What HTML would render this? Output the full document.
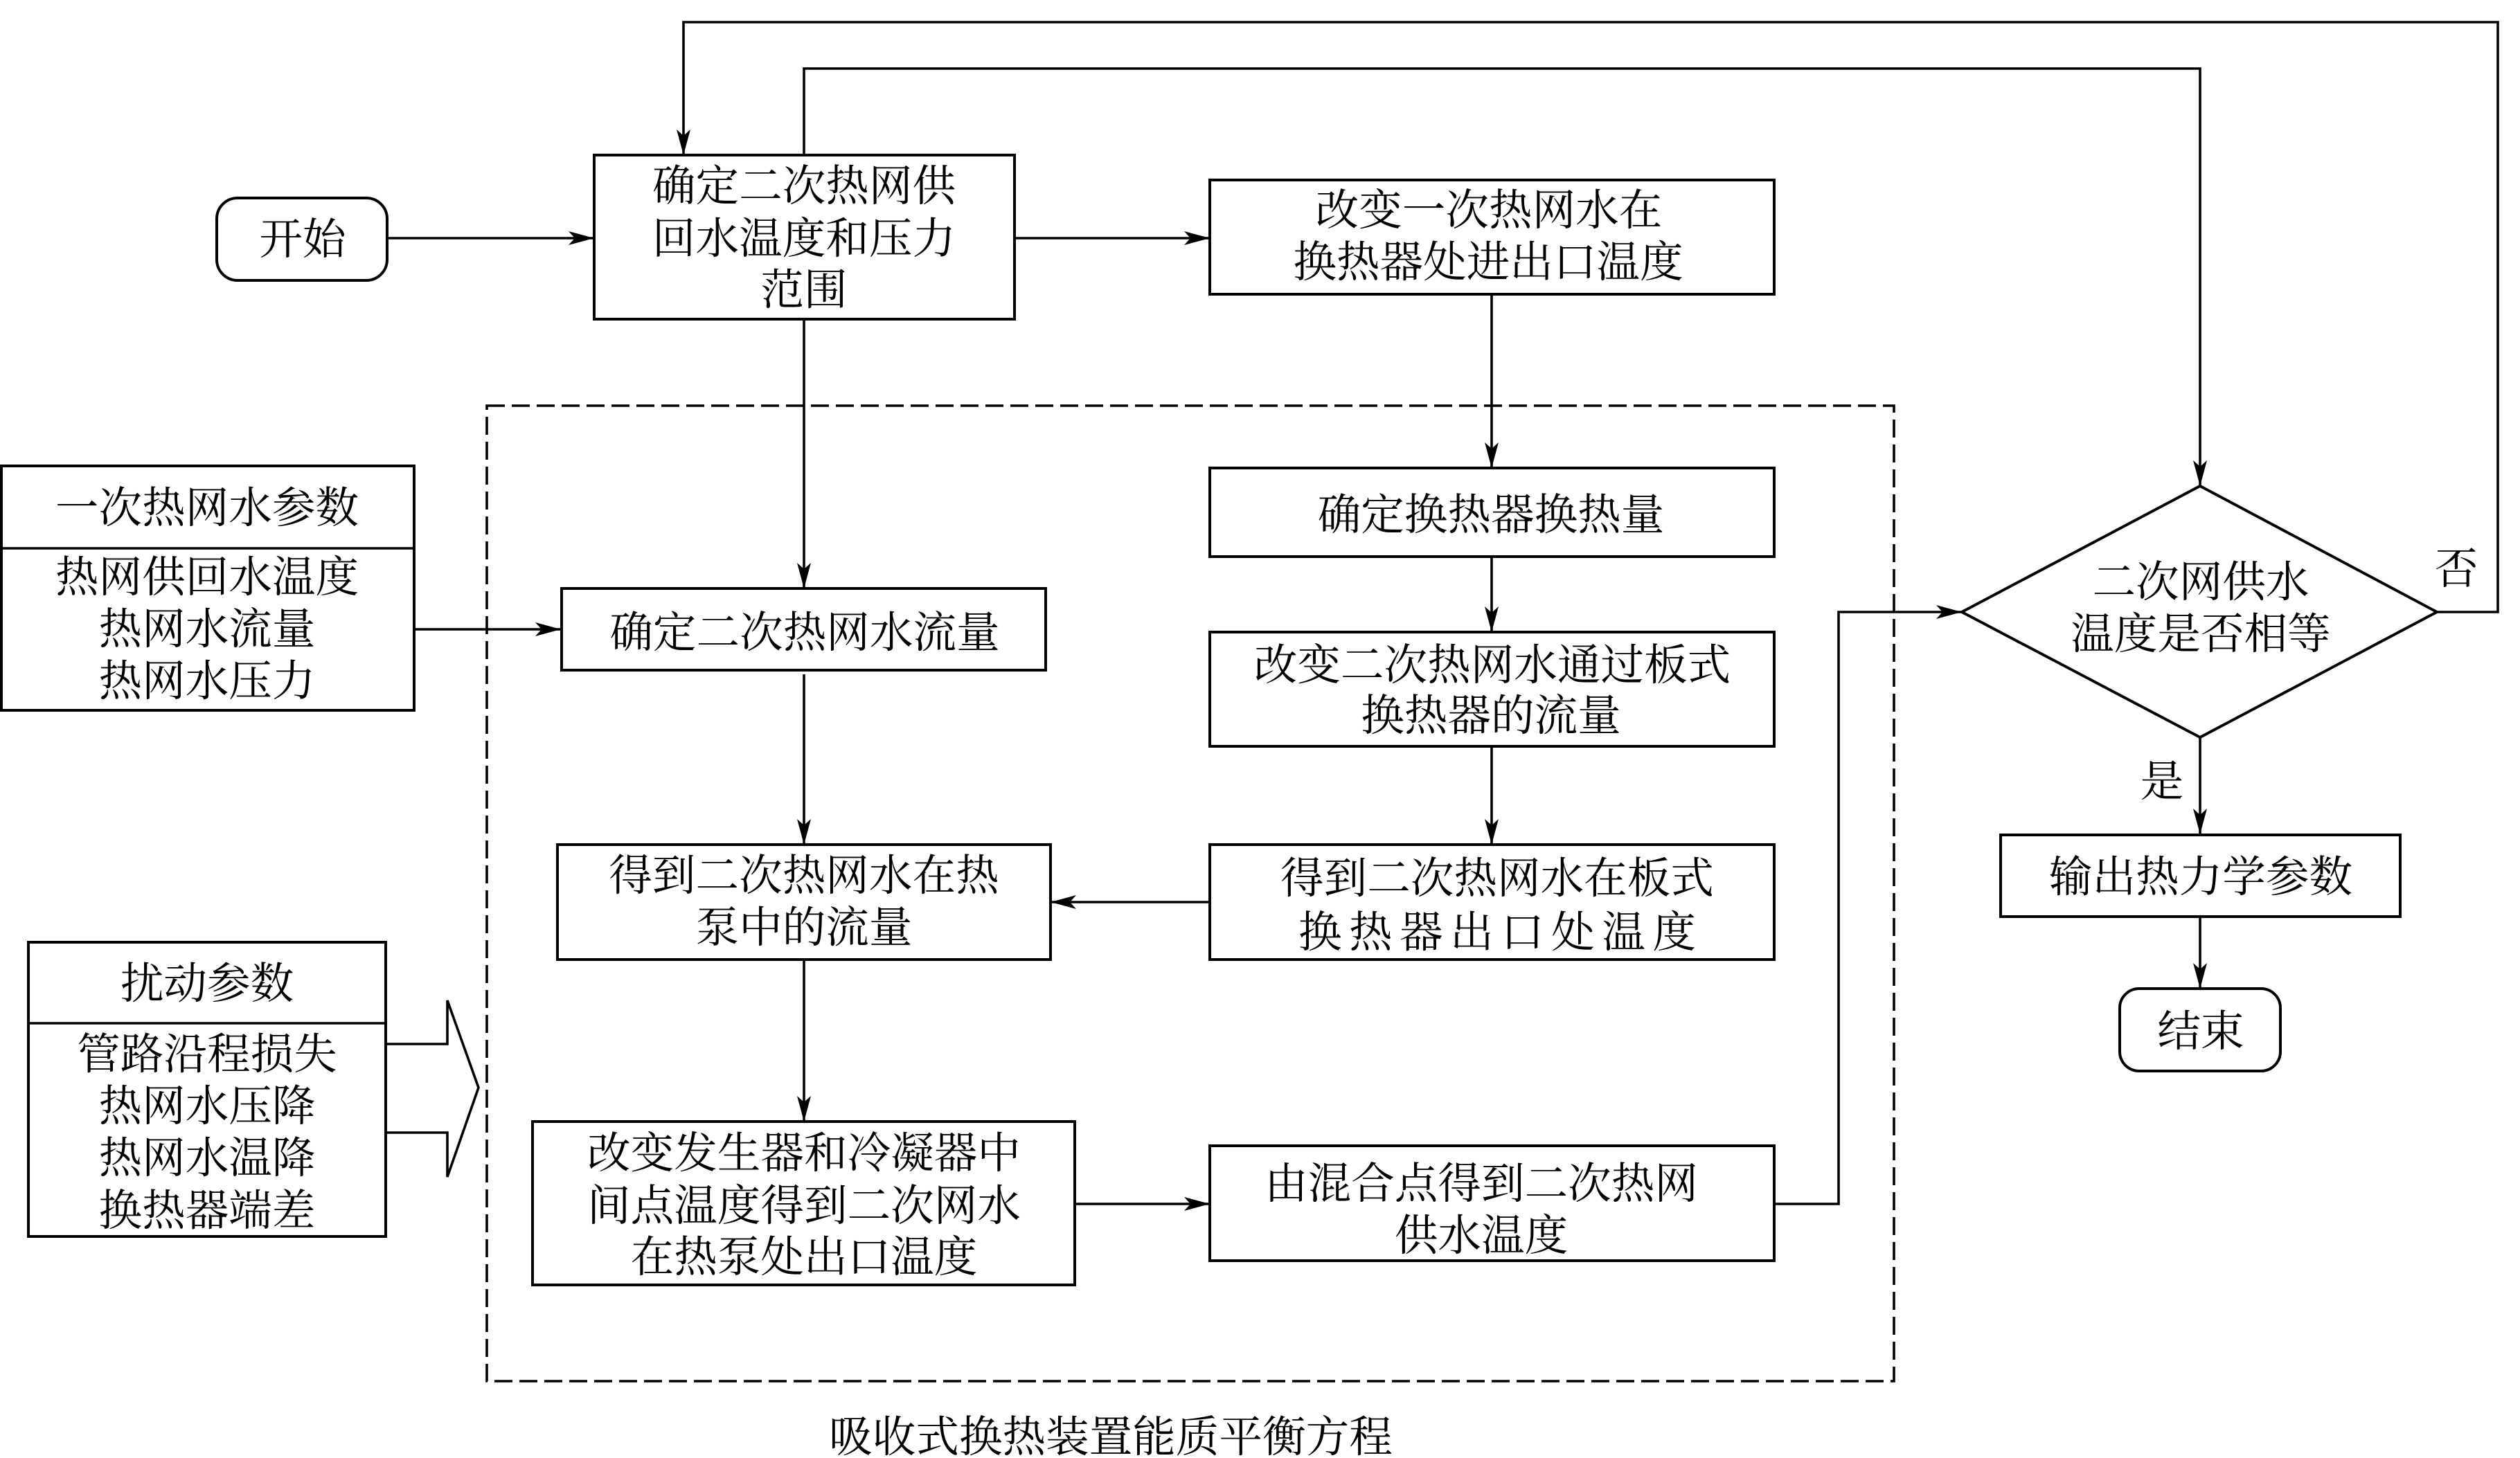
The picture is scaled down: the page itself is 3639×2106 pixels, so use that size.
<!DOCTYPE html>
<html lang="zh">
<head>
<meta charset="utf-8">
<style>
html,body{margin:0;padding:0;background:#fff;width:3639px;height:2106px;overflow:hidden}
svg{display:block}
text{font-family:"Liberation Serif","Noto Serif CJK SC",serif;font-size:62.6px;fill:#000;text-anchor:middle;dominant-baseline:central}
.s{fill:#fff;stroke:#000;stroke-width:4}
.l{fill:none;stroke:#000;stroke-width:3.6}
</style>
</head>
<body>
<svg width="3639" height="2106" viewBox="0 0 3639 2106" xmlns="http://www.w3.org/2000/svg">
<defs><polygon id="a" points="0,0 -37,-10 -28,0 -37,10" fill="#000"/></defs>

<!-- dashed container -->
<rect x="703" y="586" width="2032" height="1409" fill="none" stroke="#000" stroke-width="3.6" stroke-dasharray="26 10"/>

<!-- connectors -->
<path class="l" d="M3519 884H3607V32H987V224"/>
<path class="l" d="M1161 224V99H3177V702"/>
<path class="l" d="M559 344H858"/>
<path class="l" d="M1465 344H1747"/>
<path class="l" d="M1161 461V850"/>
<path class="l" d="M2154 425V676"/>
<path class="l" d="M2154 804V913"/>
<path class="l" d="M2154 1078V1220"/>
<path class="l" d="M1161 974V1220"/>
<path class="l" d="M1161 1386V1620"/>
<path class="l" d="M1747 1303H1517"/>
<path class="l" d="M598 909H810"/>
<path class="l" d="M1552 1739H1747"/>
<path class="l" d="M2562 1739H2655V884H2833"/>
<path class="l" d="M3177 1065V1205"/>
<path class="l" d="M3177 1324V1428"/>

<use href="#a" transform="translate(987,224) rotate(90)"/>
<use href="#a" transform="translate(858,344)"/>
<use href="#a" transform="translate(1747,344)"/>
<use href="#a" transform="translate(1161,850) rotate(90)"/>
<use href="#a" transform="translate(810,909)"/>
<use href="#a" transform="translate(2154,676) rotate(90)"/>
<use href="#a" transform="translate(2154,913) rotate(90)"/>
<use href="#a" transform="translate(2154,1220) rotate(90)"/>
<use href="#a" transform="translate(1161,1220) rotate(90)"/>
<use href="#a" transform="translate(1161,1620) rotate(90)"/>
<use href="#a" transform="translate(1517,1303) rotate(180)"/>
<use href="#a" transform="translate(1747,1739)"/>
<use href="#a" transform="translate(2833,884)"/>
<use href="#a" transform="translate(3177,702) rotate(90)"/>
<use href="#a" transform="translate(3177,1205) rotate(90)"/>
<use href="#a" transform="translate(3177,1428) rotate(90)"/>

<!-- start -->
<rect class="s" x="313" y="286" width="246" height="119" rx="30"/>
<text x="437" y="346">开始</text>

<!-- box 1 -->
<rect class="s" x="858" y="224" width="607" height="237"/>
<text x="1161" y="269">确定二次热网供</text>
<text x="1161" y="345">回水温度和压力</text>
<text x="1161" y="419">范围</text>

<!-- right column -->
<rect class="s" x="1747" y="260" width="815" height="165"/>
<text x="2150" y="304">改变一次热网水在</text>
<text x="2149" y="379">换热器处进出口温度</text>

<rect class="s" x="1747" y="676" width="815" height="128"/>
<text x="2153" y="744">确定换热器换热量</text>

<rect class="s" x="1747" y="913" width="815" height="165"/>
<text x="2155" y="961">改变二次热网水通过板式</text>
<text x="2153" y="1034">换热器的流量</text>

<rect class="s" x="1747" y="1220" width="815" height="166"/>
<text x="2162" y="1269">得到二次热网水在板式</text>
<text x="2162" y="1347" textLength="574" lengthAdjust="spacing">换热器出口处温度</text>

<rect class="s" x="1747" y="1655" width="815" height="166"/>
<text x="2139" y="1710">由混合点得到二次热网</text>
<text x="2139" y="1785">供水温度</text>

<!-- left column -->
<rect class="s" x="2" y="673" width="596" height="353"/>
<path class="l" d="M2 792H598"/>
<text x="299" y="734">一次热网水参数</text>
<text x="299" y="834">热网供回水温度</text>
<text x="299" y="909">热网水流量</text>
<text x="299" y="984">热网水压力</text>

<rect class="s" x="811" y="850" width="699" height="118"/>
<text x="1162" y="914">确定二次热网水流量</text>

<rect class="s" x="805" y="1220" width="712" height="166"/>
<text x="1161" y="1265">得到二次热网水在热</text>
<text x="1161" y="1340">泵中的流量</text>

<rect class="s" x="41" y="1361" width="516" height="425"/>
<path class="l" d="M41 1478H557"/>
<text x="299" y="1421">扰动参数</text>
<text x="299" y="1523">管路沿程损失</text>
<text x="299" y="1598">热网水压降</text>
<text x="299" y="1673">热网水温降</text>
<text x="299" y="1749">换热器端差</text>

<path class="l" d="M557 1508H646V1445L691 1571L646 1700V1636H557"/>

<rect class="s" x="769" y="1620" width="783" height="236"/>
<text x="1161" y="1666">改变发生器和冷凝器中</text>
<text x="1161" y="1742">间点温度得到二次网水</text>
<text x="1161" y="1816">在热泵处出口温度</text>

<!-- diamond -->
<polygon class="s" points="3177,702 3519,884 3177,1065 2833,884"/>
<text x="3178" y="841">二次网供水</text>
<text x="3178" y="916">温度是否相等</text>
<text x="3122" y="1129">是</text>
<text x="3547" y="822">否</text>

<rect class="s" x="2889" y="1206" width="577" height="118"/>
<text x="3178" y="1267">输出热力学参数</text>

<rect class="s" x="3061" y="1428" width="232" height="119" rx="28"/>
<text x="3178" y="1490">结束</text>

<text x="1604" y="2076">吸收式换热装置能质平衡方程</text>
</svg>
</body>
</html>
